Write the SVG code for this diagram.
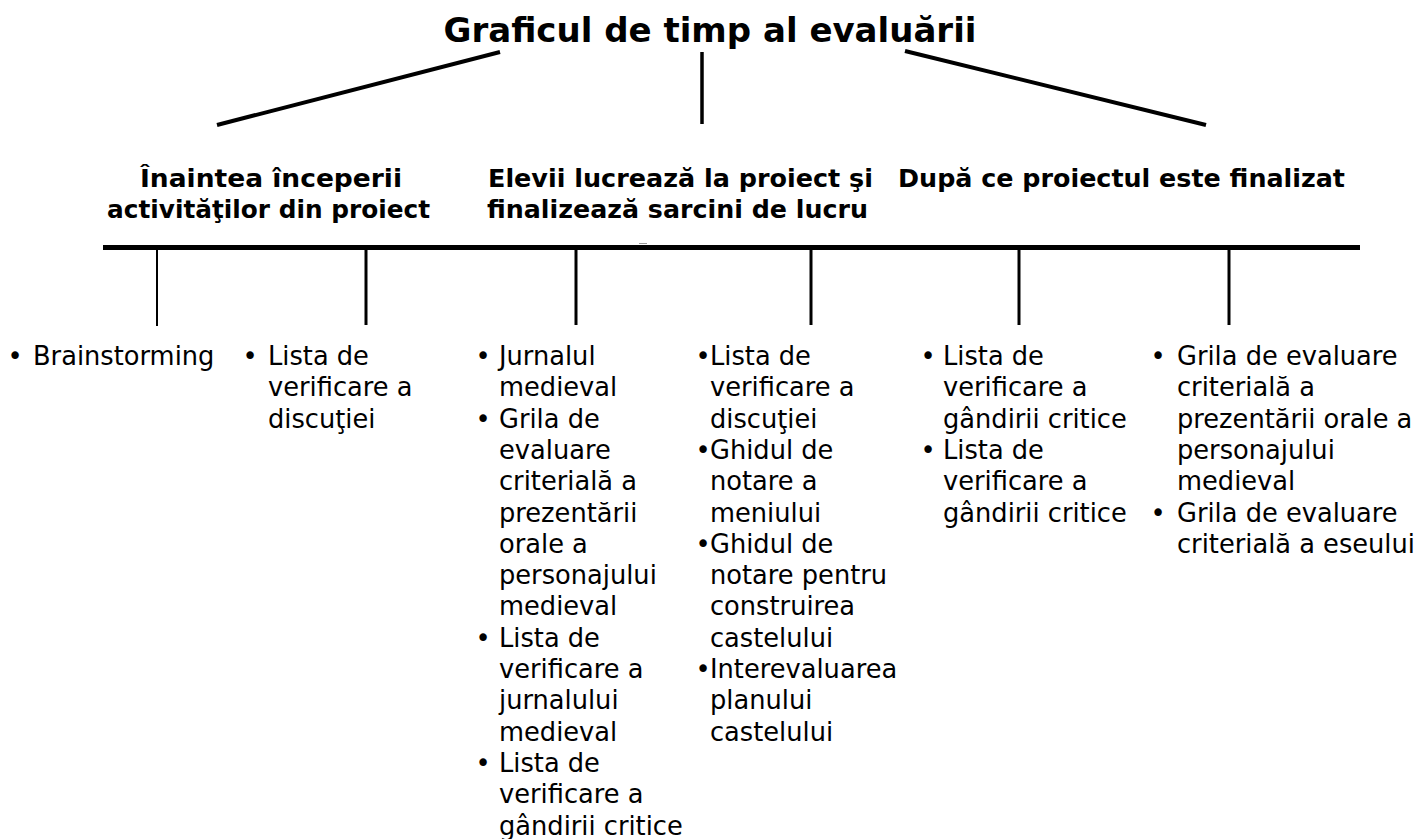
<svg xmlns="http://www.w3.org/2000/svg" width="1418" height="839" viewBox="0 0 1418 839">
<style>
.title{font-family:"DejaVu Sans",Verdana,sans-serif;font-weight:bold;font-size:34px;fill:#000}
.head{font-family:"DejaVu Sans",Verdana,sans-serif;font-weight:bold;font-size:24.8px;fill:#000}
.body{font-family:"DejaVu Sans",Verdana,sans-serif;font-size:25.7px;fill:#000}
.ln{stroke:#000;stroke-linecap:butt;fill:none}
</style>
<rect x="0" y="0" width="1418" height="839" fill="#fff"/>
<g id="title"><text class="title" x="710" y="42" text-anchor="middle">Graficul de timp al evaluării</text></g>
<g id="connectors">
<line class="ln" x1="500" y1="52" x2="217" y2="125" stroke-width="4"/>
<line class="ln" x1="702" y1="52" x2="702" y2="124" stroke-width="3.5"/>
<line class="ln" x1="905" y1="51" x2="1206" y2="125" stroke-width="4"/>
<line class="ln" x1="103" y1="247.5" x2="1360" y2="247.5" stroke-width="5"/>
<line class="ln" x1="157" y1="248" x2="157" y2="326" stroke-width="2" stroke="#444"/>
<line class="ln" x1="366" y1="248" x2="366" y2="325" stroke-width="3"/>
<line class="ln" x1="576" y1="248" x2="576" y2="325" stroke-width="3"/>
<line class="ln" x1="811" y1="248" x2="811" y2="325" stroke-width="3"/>
<line class="ln" x1="1019" y1="248" x2="1019" y2="325" stroke-width="3"/>
<line class="ln" x1="1229" y1="248" x2="1229" y2="325" stroke-width="3"/>
<line x1="639" y1="243.5" x2="647" y2="243.5" stroke="#999" stroke-width="1"/>
</g>
<g id="heading-before">
<text class="head" x="140" y="187" textLength="262" lengthAdjust="spacingAndGlyphs">Înaintea începerii</text>
<text class="head" x="107" y="218" textLength="323" lengthAdjust="spacingAndGlyphs">activităţilor din proiect</text>
</g>
<g id="heading-during">
<text class="head" x="488" y="187" textLength="385" lengthAdjust="spacingAndGlyphs">Elevii lucrează la proiect şi</text>
<text class="head" x="487" y="218" textLength="381" lengthAdjust="spacingAndGlyphs">finalizează sarcini de lucru</text>
</g>
<g id="heading-after">
<text class="head" x="898" y="187" textLength="447" lengthAdjust="spacingAndGlyphs">După ce proiectul este finalizat</text>
</g>
<g id="col1">
<text class="body" x="15" y="365" text-anchor="middle">•</text>
<text class="body" x="33" y="365">Brainstorming</text>
</g>
<g id="col2">
<text class="body" x="250" y="365" text-anchor="middle">•</text>
<text class="body" x="268" y="365">Lista de</text>
<text class="body" x="268" y="396.3">verificare a</text>
<text class="body" x="268" y="427.6">discuţiei</text>
</g>
<g id="col3">
<text class="body" x="483" y="365" text-anchor="middle">•</text>
<text class="body" x="483" y="427.6" text-anchor="middle">•</text>
<text class="body" x="483" y="646.7" text-anchor="middle">•</text>
<text class="body" x="483" y="771.9" text-anchor="middle">•</text>
<text class="body" x="499" y="365">Jurnalul</text>
<text class="body" x="499" y="396.3">medieval</text>
<text class="body" x="499" y="427.6">Grila de</text>
<text class="body" x="499" y="458.9">evaluare</text>
<text class="body" x="499" y="490.2">criterială a</text>
<text class="body" x="499" y="521.5">prezentării</text>
<text class="body" x="499" y="552.8">orale a</text>
<text class="body" x="499" y="584.1">personajului</text>
<text class="body" x="499" y="615.4">medieval</text>
<text class="body" x="499" y="646.7">Lista de</text>
<text class="body" x="499" y="678">verificare a</text>
<text class="body" x="499" y="709.3">jurnalului</text>
<text class="body" x="499" y="740.6">medieval</text>
<text class="body" x="499" y="771.9">Lista de</text>
<text class="body" x="499" y="803.2">verificare a</text>
<text class="body" x="499" y="834.5">gândirii critice</text>
</g>
<g id="col4">
<text class="body" x="703" y="365" text-anchor="middle">•</text>
<text class="body" x="703" y="458.9" text-anchor="middle">•</text>
<text class="body" x="703" y="552.8" text-anchor="middle">•</text>
<text class="body" x="703" y="678" text-anchor="middle">•</text>
<text class="body" x="710" y="365">Lista de</text>
<text class="body" x="710" y="396.3">verificare a</text>
<text class="body" x="710" y="427.6">discuţiei</text>
<text class="body" x="710" y="458.9">Ghidul de</text>
<text class="body" x="710" y="490.2">notare a</text>
<text class="body" x="710" y="521.5">meniului</text>
<text class="body" x="710" y="552.8">Ghidul de</text>
<text class="body" x="710" y="584.1">notare pentru</text>
<text class="body" x="710" y="615.4">construirea</text>
<text class="body" x="710" y="646.7">castelului</text>
<text class="body" x="710" y="678">Interevaluarea</text>
<text class="body" x="710" y="709.3">planului</text>
<text class="body" x="710" y="740.6">castelului</text>
</g>
<g id="col5">
<text class="body" x="928" y="365" text-anchor="middle">•</text>
<text class="body" x="928" y="458.9" text-anchor="middle">•</text>
<text class="body" x="943" y="365">Lista de</text>
<text class="body" x="943" y="396.3">verificare a</text>
<text class="body" x="943" y="427.6">gândirii critice</text>
<text class="body" x="943" y="458.9">Lista de</text>
<text class="body" x="943" y="490.2">verificare a</text>
<text class="body" x="943" y="521.5">gândirii critice</text>
</g>
<g id="col6">
<text class="body" x="1158" y="365" text-anchor="middle">•</text>
<text class="body" x="1158" y="521.5" text-anchor="middle">•</text>
<text class="body" x="1177" y="365">Grila de evaluare</text>
<text class="body" x="1177" y="396.3">criterială a</text>
<text class="body" x="1177" y="427.6">prezentării orale a</text>
<text class="body" x="1177" y="458.9">personajului</text>
<text class="body" x="1177" y="490.2">medieval</text>
<text class="body" x="1177" y="521.5">Grila de evaluare</text>
<text class="body" x="1177" y="552.8">criterială a eseului</text>
</g>
</svg>
